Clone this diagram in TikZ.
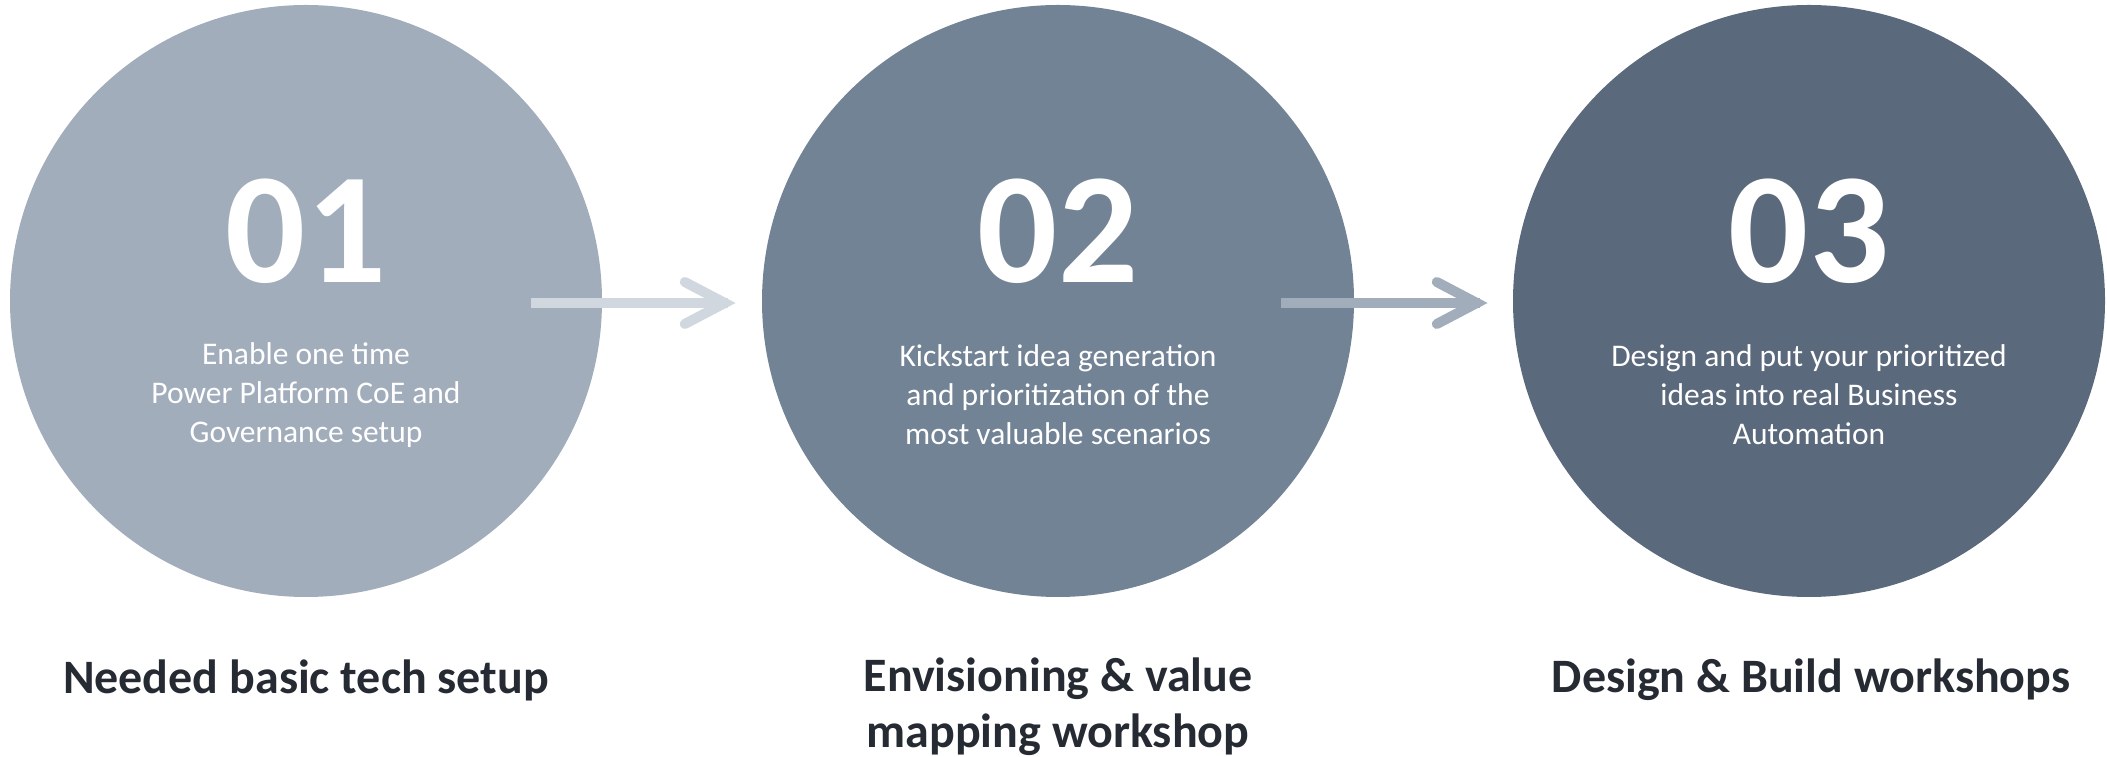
\documentclass[tikz,border=0pt]{standalone}
\usepackage{fontspec}
\setmainfont{Carlito}
\definecolor{cA}{HTML}{A2ADBB}
\definecolor{cB}{HTML}{738396}
\definecolor{cC}{HTML}{5B697C}
\definecolor{arrA}{HTML}{D0D7DF}
\definecolor{arrB}{HTML}{A2ADBB}
\definecolor{lbl}{HTML}{262B33}
\begin{document}
\begin{tikzpicture}[x=1pt,y=1pt,
  stage/.style={circle,minimum size=592pt,inner sep=0pt,draw=none},
  num/.style={text=white,inner sep=0pt,font=\fontsize{158}{158}\selectfont\bfseries},
  desc/.style={text=white,inner sep=0pt,align=center,font=\fontsize{31.5}{39}\selectfont},
  lab/.style={text=lbl,inner sep=0pt,align=center,font=\fontsize{48}{56}\selectfont\bfseries},
  shaft/.style={line width=10pt,line cap=butt},
  head/.style={line width=10pt,line cap=round,line join=miter}]
\useasboundingbox (0,0) rectangle (2107,757);
\node[stage,fill=cA] (c1) at (306,456) {};
\node[stage,fill=cB] (c2) at (1058,456) {};
\node[stage,fill=cC] (c3) at (1809,456) {};
\node[num] (n1) at (306,526) {01};
\node[num] (n2) at (1058,526) {02};
\node[num] (n3) at (1809,526) {03};
\node[desc] (d1) at (306,362) {Enable one time\\Power Platform CoE and\\Governance setup};
\node[desc] (d2) at (1058,362) {Kickstart idea generation\\and prioritization of the\\most valuable scenarios};
\node[desc] (d3) at (1809,362) {Design and put your prioritized\\ideas into real Business\\Automation};
\node[lab] (l1) at (306,77) {Needed basic tech setup};
\node[lab] (l2) at (1058,50) {Envisioning \& value\\mapping workshop};
\node[lab] (l3) at (1811,77) {Design \& Build workshops};
% arrow 1
\coordinate (t1) at ([shift={(-26pt,-2pt)}]c2.west);
\draw[shaft,arrA] ([shift={(-71pt,-2pt)}]c1.east) -- ([xshift=-8pt]t1);
\draw[head,arrA] ([shift={(-51pt,21pt)}]t1) -- ([xshift=-11pt]t1) -- ([shift={(-51pt,-21pt)}]t1);
% arrow 2
\coordinate (t2) at ([shift={(-25pt,-2pt)}]c3.west);
\draw[shaft,arrB] ([shift={(-73pt,-2pt)}]c2.east) -- ([xshift=-8pt]t2);
\draw[head,arrB] ([shift={(-51pt,21pt)}]t2) -- ([xshift=-11pt]t2) -- ([shift={(-51pt,-21pt)}]t2);
\end{tikzpicture}
\end{document}
